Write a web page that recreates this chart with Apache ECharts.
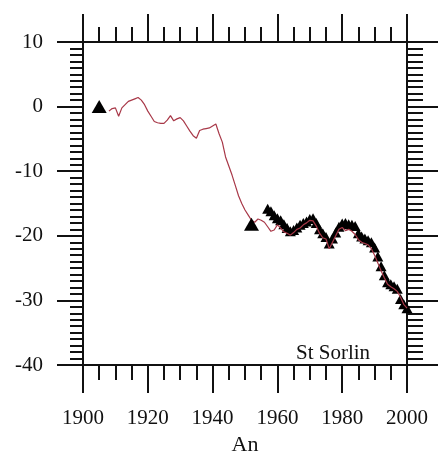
<!DOCTYPE html>
<html>
<head>
<meta charset="utf-8">
<script src="https://cdn.jsdelivr.net/npm/echarts@6/dist/echarts.min.js"></script>
<style>
  html, body { margin: 0; padding: 0; background: #fff; }
  #chart { width: 439px; height: 465px; }
</style>
</head>
<body>
<div id="chart"></div>
<script>
// Cumulative mass balance, St Sorlin glacier (annual series, 1908-2000)
const lineFirstYear = 1908;
const lineValues = [
  -0.7, -0.3, -0.2, -1.5, -0.2, 0.3, 0.8, 1.0, 1.2, 1.4,
  1.0, 0.3, -0.7, -1.5, -2.3, -2.5, -2.6, -2.6, -2.1, -1.4,
  -2.2, -1.9, -1.7, -2.2, -3.0, -3.8, -4.5, -4.9, -3.7, -3.5,
  -3.4, -3.3, -3.0, -2.7, -4.2, -5.5, -7.8, -9.2, -10.6, -12.2,
  -13.8, -15.0, -16.0, -16.8, -17.6, -17.9, -17.4, -17.6, -17.9, -18.6,
  -19.3, -19.1, -18.3, -18.8, -19.4, -19.6, -19.9, -19.5, -19.0, -18.8,
  -18.3, -18.0, -17.6, -17.7, -18.5, -19.6, -20.3, -20.5, -22.0, -21.0,
  -20.0, -19.0, -18.7, -19.2, -19.0, -19.3, -19.8, -20.6, -21.0, -21.2,
  -21.4, -22.0, -23.0, -24.2, -25.4, -26.5, -27.5, -27.9, -28.2, -28.6,
  -29.5, -30.6, -31.2
];

// Geodetic / reference measurements (large markers)
const refYears = [1905, 1952];
const refValues = [0.0, -18.2];

// Direct annual measurements, 1957-2000 (small markers)
const obsFirstYear = 1957;
const obsValues = [
  -15.8, -16.2, -16.8, -17.3, -17.6, -18.2, -18.8, -19.3, -19.1, -18.7,
  -18.3, -18.0, -17.8, -17.4, -17.3, -18.0, -19.0, -19.6, -20.2, -21.2,
  -20.4, -19.5, -18.6, -18.1, -18.0, -18.2, -18.3, -18.5, -19.6, -20.1,
  -20.4, -20.7, -21.0, -21.8, -23.2, -24.7, -26.1, -27.2, -27.5, -27.8,
  -28.2, -29.8, -30.6, -31.2
];

const xTicks = [1900, 2000, 20];
const yTicks = [-40, 10, 10];
const xTitle = 'An';
const siteName = 'St Sorlin';

const lineData = lineValues.map((v, i) => [lineFirstYear + i, v]);
const obsData = obsValues.map((v, i) => [obsFirstYear + i, v]);
const refData = refYears.map((y, i) => [y, refValues[i]]);

const FONT = '"Liberation Serif", "Times New Roman", serif';
const INK = '#111';

function xAxisCfg(pos) {
  const bottom = pos === 'bottom';
  return {
    type: 'value', position: pos,
    min: xTicks[0], max: xTicks[1], interval: xTicks[2],
    name: bottom ? xTitle : '', nameLocation: 'middle', nameGap: 66,
    nameTextStyle: { fontFamily: FONT, fontSize: 22, color: INK },
    axisLine: { show: true, onZero: false, lineStyle: { color: INK, width: 2 } },
    axisTick: { show: true, inside: false, length: 28, lineStyle: { color: INK, width: 2 } },
    minorTick: { show: true, splitNumber: 4, length: 15, lineStyle: { color: INK, width: 2 } },
    axisLabel: {
      show: bottom, margin: 43, fontFamily: FONT, fontSize: 21, color: INK,
      formatter: v => String(v)
    },
    splitLine: { show: false }
  };
}

function yAxisCfg(pos) {
  const left = pos === 'left';
  return {
    type: 'value', position: pos,
    min: yTicks[0], max: yTicks[1], interval: yTicks[2],
    axisLine: { show: true, onZero: false, lineStyle: { color: INK, width: 2 } },
    axisTick: { show: true, inside: false, length: left ? 26 : 31, lineStyle: { color: INK, width: 2 } },
    minorTick: { show: true, splitNumber: 10, length: left ? 13 : 16, lineStyle: { color: INK, width: 2 } },
    axisLabel: { show: left, margin: 40, fontFamily: FONT, fontSize: 21, color: INK },
    splitLine: { show: false }
  };
}

const chart = echarts.init(document.getElementById('chart'), null, { renderer: 'canvas' });
chart.setOption({
  animation: false,
  backgroundColor: '#fff',
  grid: { left: 83, right: 32, top: 42, bottom: 100, containLabel: false },
  title: {
    text: siteName, left: 291, top: 338,
    textStyle: { fontFamily: FONT, fontSize: 21, fontWeight: 'normal', color: INK }
  },
  xAxis: [xAxisCfg('bottom'), xAxisCfg('top')],
  yAxis: [yAxisCfg('left'), yAxisCfg('right')],
  series: [
    {
      type: 'line', data: lineData, xAxisIndex: 0, yAxisIndex: 0,
      showSymbol: false, lineStyle: { color: '#a83848', width: 1.2 }, z: 3
    },
    {
      type: 'scatter', data: obsData, xAxisIndex: 0, yAxisIndex: 0,
      symbol: 'triangle', symbolSize: [11, 10],
      itemStyle: { color: '#000', opacity: 1 }, z: 2
    },
    {
      type: 'scatter', data: refData, xAxisIndex: 0, yAxisIndex: 0,
      symbol: 'triangle', symbolSize: [15, 13],
      itemStyle: { color: '#000', opacity: 1 }, z: 4
    }
  ]
});
</script>
</body>
</html>
